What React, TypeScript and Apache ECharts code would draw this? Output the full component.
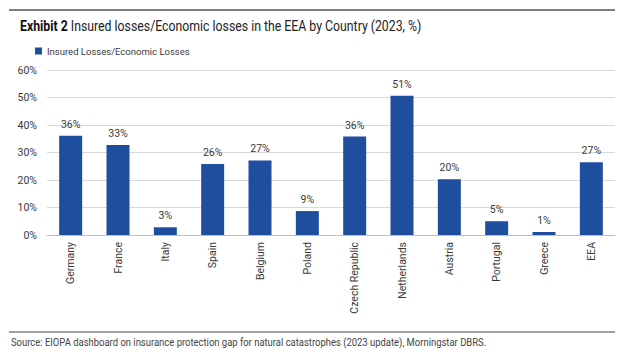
import React, { useEffect, useRef } from "react";
import * as echarts from "echarts";

const categories = ["Germany", "France", "Italy", "Spain", "Belgium", "Poland", "Czech Republic", "Netherlands", "Austria", "Portugal", "Greece", "EEA"];
const ratioValues = [36.1, 32.7, 2.8, 25.8, 27.1, 8.7, 35.8, 50.6, 20.3, 5.0, 1.1, 26.5];
const yTicks = [0, 10, 20, 30, 40, 50, 60];
const seriesName = "Insured Losses/Economic Losses";
const titleBold = "Exhibit 2";
const titleRest = " Insured losses/Economic losses in the EEA by Country (2023, %)";
const sourceText = "Source: EIOPA dashboard on insurance protection gap for natural catastrophes (2023 update), Morningstar DBRS.";

const FONT = "Roboto, sans-serif";
const BLUE = "#1f4e9f";
const TXT = "#3a3a3a";

export default function App() {
  const ref = useRef<HTMLDivElement>(null);
  useEffect(() => {
    if (!ref.current) return;
    const chart = echarts.init(ref.current, undefined, { renderer: "svg" });
    chart.setOption({
      animation: false,
      backgroundColor: "#ffffff",
      textStyle: { fontFamily: FONT },
      legend: {
        show: true,
        left: 35,
        top: 46,
        padding: 0,
        icon: "rect",
        itemWidth: 7,
        itemHeight: 7,
        textStyle: { fontFamily: FONT, fontSize: 9.5, color: TXT },
        data: [seriesName],
      },
      grid: { left: 47, right: 9, top: 70, bottom: 124, containLabel: false },
      xAxis: {
        type: "category",
        data: categories,
        axisLine: { show: true, lineStyle: { color: "#bfbfbf", width: 1 } },
        axisTick: { show: false },
        axisLabel: { rotate: 90, fontFamily: FONT, fontSize: 10.5, color: TXT, margin: 7, interval: 0 },
      },
      yAxis: {
        type: "value",
        min: yTicks[0],
        max: yTicks[yTicks.length - 1],
        interval: 10,
        axisLine: { show: false },
        axisTick: { show: false },
        splitLine: { lineStyle: { color: "#d9d9d9", width: 1 } },
        axisLabel: { formatter: "{value}%", fontFamily: FONT, fontSize: 10.5, color: TXT, margin: 10 },
      },
      series: [
        {
          name: seriesName,
          type: "bar",
          data: ratioValues,
          barWidth: 23,
          itemStyle: { color: BLUE },
          label: {
            show: true,
            position: "top",
            distance: 6,
            fontFamily: FONT,
            fontSize: 10.5,
            color: TXT,
            formatter: (p: any) => Math.round(p.value) + "%",
          },
        },
      ],
      graphic: [
        { type: "line", shape: { x1: 9, y1: 10, x2: 615, y2: 10 }, style: { stroke: "#555555", lineWidth: 1.5 } },
        {
          type: "text",
          x: 20,
          y: 26,
          scaleX: 0.82,
          style: {
            verticalAlign: "middle",
            align: "left",
            rich: {
              b: { fontFamily: FONT, fontSize: 15, fontWeight: "bold", fill: "#111" },
              r: { fontFamily: FONT, fontSize: 15, fill: "#222" },
            },
            text: "{b|" + titleBold + "}{r|" + titleRest + "}",
          },
        },
        { type: "line", shape: { x1: 9, y1: 332, x2: 615, y2: 332 }, style: { stroke: "#444444", lineWidth: 1 } },
        {
          type: "text",
          x: 11,
          y: 342,
          scaleX: 0.86,
          style: { text: sourceText, verticalAlign: "middle", align: "left", fontFamily: FONT, fontSize: 11, fill: "#444" },
        },
      ],
    });
    return () => chart.dispose();
  }, []);
  return <div ref={ref} style={{ position: "fixed", left: 0, top: 0, width: 624, height: 359 }} />;
}
